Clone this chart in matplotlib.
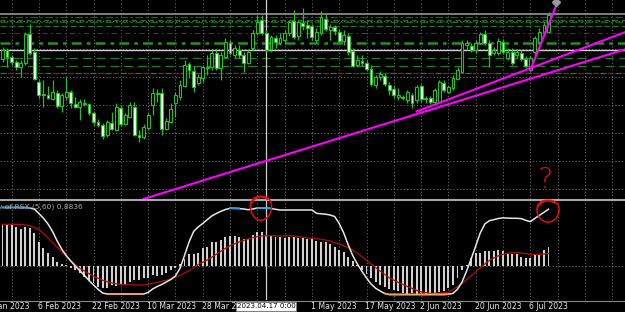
import numpy as np
import matplotlib.pyplot as plt
from matplotlib.patches import Rectangle
import matplotlib.transforms as mtransforms

plt.rcParams['font.family'] = ['Liberation Sans Narrow', 'DejaVu Sans']

# ---- daily candles (bar index 0 = first visible bar) ----
opens = [141, 150, 143, 138, 133, 137, 166, 148, 118, 106,
         105, 101, 107, 94, 103, 108, 96, 93, 97, 96,
         87, 78, 75, 65, 77, 70, 92, 76, 83, 93,
         65, 63, 72, 95, 107, 107, 71, 78, 97, 103,
         114, 136, 129, 117, 122, 133, 133, 147, 132, 143,
         157, 145, 150, 145, 137, 152, 167, 180, 167, 151,
         162, 157, 160, 167, 179, 164, 177, 175, 174, 160,
         167, 181, 170, 173, 168, 159, 164, 149, 135, 139,
         137, 131, 115, 123, 124, 115, 111, 103, 103, 100,
         105, 100, 114, 102, 102, 98, 98, 117, 108, 112,
         121, 128, 155, 154, 150, 157, 166, 157, 147, 147,
         158, 142, 148, 145, 147, 141, 130, 148, 158, 168,
         168]
closes = [150, 143, 138, 133, 137, 166, 147, 121, 105, 105,
          102, 108, 94, 105, 108, 97, 93, 98, 96.5, 87,
          78, 75, 64, 78, 71, 93, 76, 85, 95, 65,
          63, 73, 85, 107, 106.5, 71, 79, 91, 105, 115,
          135, 130, 113, 123, 133, 132, 147, 132, 145, 158,
          147, 152, 145, 137, 148, 167, 178, 167, 150, 163,
          158, 162, 167, 178, 163, 178, 174, 172, 163, 168,
          183, 171, 173, 169, 159, 165, 148, 134, 140, 137,
          131, 116, 123, 126, 116, 110, 105, 105, 102, 108,
          97, 113, 101, 101, 98, 110, 118, 110, 113, 122,
          130, 157, 157, 150, 157, 166, 157, 145, 150, 159,
          148, 148, 137, 148, 141, 134, 142, 162, 168, 175,
          185]
highs = [153, 152, 145, 140, 140, 168, 176, 152, 120, 120,
         114, 120, 110, 107, 123, 110, 103, 101, 101, 97,
         89, 81, 77, 80, 88, 97, 95, 87, 98, 98,
         70, 76, 87, 112, 111, 112, 82, 97, 108, 120,
         140, 138, 134, 126, 135, 145, 150, 150, 148, 162,
         160, 155, 155, 148, 150, 170, 185, 185, 170, 165,
         165, 167, 170, 180, 190, 180, 192, 180, 176, 172,
         189, 186, 176, 175, 171, 170, 167, 152, 145, 145,
         140, 135, 125, 129, 127, 118, 114, 112, 105, 110,
         107, 115, 116, 104, 104, 112, 120, 120, 115, 125,
         133, 160, 160, 157, 160, 168, 170, 160, 153, 162,
         161, 152, 152, 151, 150, 144, 144, 164, 172, 178,
         188]
lows = [138, 133, 135, 130, 123, 135, 145, 120, 102, 93,
        101, 100, 92, 88, 100, 92, 92, 80, 94, 85,
        75, 73, 61, 63, 70, 69, 74, 75, 82, 64,
        58, 61, 70, 85, 98, 65, 70, 77, 83, 100,
        113, 122, 108, 115, 118, 125, 130, 130, 120, 142,
        145, 142, 142, 128, 136, 150, 165, 165, 148, 148,
        152, 155, 156, 164, 161, 160, 170, 162, 160, 158,
        165, 169, 160, 165, 157, 155, 145, 133, 133, 134,
        129, 114, 112, 120, 114, 105, 102, 100, 100, 97,
        92, 97, 98, 97, 96, 96, 97, 108, 107, 110,
        120, 127, 150, 148, 147, 156, 155, 133, 145, 145,
        146, 140, 135, 142, 139, 132, 128, 145, 157, 167,
        167]

# ---- RSX indicator window ----
rsx_line = [58.5, 58.5, 58.5, 58.5, 58.5, 58.5, 58, 57, 52.5, 47.8,
            42, 34.5, 25.2, 17, 10.5, 5, 0, -4.8, -9.3, -14.5,
            -19, -23.3, -27, -28, -28, -28, -28, -28, -28, -28,
            -28, -28, -26.5, -23, -20.5, -18.5, -16, -13.5, -10, -2.5,
            10.5, 24, 34.5, 39, 42.5, 46.3, 50, 52.5, 54.7, 56.5,
            57.7, 57.7, 57.5, 57, 56.3, 57, 58, 58, 58, 57.5,
            56.7, 56, 56, 56, 56, 56, 56, 56, 56, 52.7,
            52.2, 51.8, 51, 49.5, 42.5, 33, 21, 10.2, 2, -5.3,
            -12, -18, -22.2, -25, -27.5, -28.5, -28.5, -28.5, -28.5, -28.5,
            -28.5, -28.5, -28.5, -28.5, -28.5, -28.5, -28.5, -28.5, -28.2, -27.4,
            -23.2, -16, -5, 7, 20, 33, 42, 45.3, 46.4, 47.5,
            48.2, 47.9, 47.7, 47.7, 47.4, 45.7, 44.3, 47.6, 50.6, 53.7,
            56.8]
signal_line = [41.7, 41.7, 41.7, 41.7, 41.6, 41, 40.3, 38.4, 36.5, 32.5,
               28, 23.4, 18.9, 14.3, 9.8, 5.3, 1.6, -2.2, -5, -7.7,
               -10, -12.3, -14.2, -15.7, -16.9, -17.7, -18.3, -18.6, -18.8, -19,
               -19, -19, -18.5, -17.4, -16.4, -15.4, -14.2, -13, -11.3, -9.6,
               -7, -4.8, -2, 1.5, 3.8, 6, 8.8, 11.7, 14.8, 17.6,
               20.3, 22.1, 24, 25.6, 27.1, 28.4, 29.4, 30, 30.2, 30.3,
               30.2, 30, 30.1, 30.3, 30, 29.5, 28.8, 28.1, 27.6, 27.2,
               26.8, 25.9, 25, 23.5, 22, 20.2, 18.4, 15.8, 12.7, 9.3,
               5.6, 2.1, -1.6, -5.1, -8.4, -11.8, -14.2, -16.5, -18.5, -20.5,
               -22.3, -24.3, -25.9, -26.6, -27.3, -27.3, -27.3, -26.7, -26, -23.7,
               -20.7, -17.6, -13.5, -9.7, -5.9, -2, 2, 5.5, 8, 10.3,
               11.7, 12.8, 13.3, 13.3, 13.1, 12.4, 11.7, 11.7, 11.7, 12,
               12.7]
histogram = [41.7, 41, 41, 39.3, 36.7, 39.3, 37.7, 32.7, 24.3, 17.7,
             12.7, 9.3, 4.3, 1.7, 1, -2.3, -4, -7.3, -10.7, -14,
             -17.3, -20.7, -21.7, -21.7, -19, -19.7, -19, -18.3, -16.3, -14,
             -14, -11.7, -11.7, -9, -9.7, -9, -7.3, -4, -2.3, 1.7,
             7, 12, 12, 12.7, 17.7, 19.3, 23.7, 23.7, 26, 29.3,
             30.3, 30.3, 29.3, 27, 27, 31, 33.7, 33.7, 31, 30.3,
             29.3, 29.3, 28.3, 29.3, 29.3, 27.7, 28.3, 27, 27, 25,
             24.3, 23.7, 21.7, 19.3, 16, 14.3, 9.3, 5, 1, -4,
             -8.3, -12.3, -15.7, -19, -21, -23, -24, -25, -27, -28,
             -27.3, -29, -27.3, -29, -27.3, -27.3, -25.7, -24.7, -22.3, -19,
             -12.3, -4, 1, 7.7, 12.7, 12.7, 15.3, 15.3, 15.3, 16,
             15.3, 12, 12, 12, 9.3, 7.7, 7.7, 11, 11, 16,
             19.3]
rsx_high_zone = 57.5
rsx_low_zone = -27.5
rsx_label = "Velocity of RSX (5,60) 0.8836"

# ---- time axis (the 13 Apr label sits under the cursor box) ----
date_idx = [-4, 8, 20, 32, 44, 68, 80, 92, 104, 116]
date_labels = ['19 Jan 2023', '6 Feb 2023', '22 Feb 2023', '10 Mar 2023', '28 Mar 2023',
               '1 May 2023', '17 May 2023', '2 Jun 2023', '20 Jun 2023', '6 Jul 2023']
cursor_idx = 58
cursor_price = 150
cursor_label = '2023.04.17 0:00'

# ---- horizontal levels drawn on the chart ----
levels = [185.7, 183, 180.5, 178, 174.5, 166.7, 157.3, 142, 134, 126.7]
level_colors = ['#a0a0a8', '#1a601a', '#226e22', '#1a601a', '#226e22',
                '#9a1414', '#2a8c2a', '#1f7f1f', '#1f7f1f', '#1f7f1f']
level_styles = ['-', (0, (6, 2, 2, 2)), (0, (4, 3)), (0, (6, 2, 2, 2)), (0, (5, 2)),
                (0, (5, 3, 1.5, 3)), (0, (4, 2, 1.5, 2)), (0, (7, 4)), (0, (7, 4)), (0, (5, 7))]
level_widths = [1.1, 0.9, 0.9, 0.9, 0.9, 0.8, 1.8, 0.9, 0.9, 0.9]

# ---- trend lines: two anchor points each (bar index, price) ----
trend_long = [(92, 87.3), (120, 126.9)]
trend_mid = [(91, 88.5), (120, 138.7)]
trend_steep = [(116, 130), (122, 198)]

# bar index -> pixel: x = 2.5 + 4.55 * i
W, H = 625, 312
x0_px, bar_px = 2.5, 4.55
xlim = ((0 - x0_px) / bar_px, (W - x0_px) / bar_px)

fig = plt.figure(figsize=(6.25, 3.12), dpi=100, facecolor='black')
ax = fig.add_axes([0, 1 - 199 / H, 1, 199 / H])
ax2 = fig.add_axes([0, (H - 300) / H, 1, 99 / H])

grid_kw = dict(color='#6a6a6a', linestyle=(0, (1.2, 2.2)), linewidth=0.7)
grid_x = np.arange(2, 137, 6)

idx = np.arange(len(opens))
o = np.array(opens, float)
c = np.array(closes, float)
hi = np.array(highs, float)
lo = np.array(lows, float)

# main window
ax.set_facecolor('black')
ax.set_xlim(*xlim)
ax.set_ylim(1, 200)
for gx in grid_x:
    ax.axvline(gx, zorder=0, **grid_kw)
for gy in np.arange(10.7, 200, 28):
    ax.axhline(gy, zorder=0, **grid_kw)
for lv, col, ls, lw in zip(levels, level_colors, level_styles, level_widths):
    ax.axhline(lv, color=col, linestyle=ls, linewidth=lw, zorder=1)
# red part of the mixed dash level
ax.axhline(levels[-1], color='#9a1414', linestyle=(6, (5, 7)), linewidth=0.9, zorder=1)
ax.axhline(cursor_price, color='#d0d0d0', linewidth=1.0, zorder=1)

green = '#22c022'
bull = c >= o
ax.vlines(idx, lo, hi, color=green, linewidth=0.9, zorder=3)
body_lo = np.minimum(o, c)
body_h = np.maximum(np.abs(c - o), 0.6)
ax.bar(idx, body_h, bottom=body_lo, width=0.62,
       color=np.where(bull, 'black', '#f4fff4'), edgecolor=green, linewidth=0.8, zorder=4)

magenta = '#ff00ff'
ax.axline(trend_long[0], trend_long[1], color=magenta, linewidth=1.5, zorder=5)
(ax_, ay_), (bx_, by_) = trend_mid
slope = (by_ - ay_) / (bx_ - ax_)
ax.plot([ax_, xlim[1]], [ay_, ay_ + slope * (xlim[1] - ax_)], color=magenta, linewidth=1.5, zorder=5)
ax.plot(*zip(*trend_steep), color=magenta, linewidth=1.5, zorder=5)
ax.plot(trend_steep[1][0] - 0.3, trend_steep[1][1], marker='D', ms=4, color='#9a9a9a', zorder=6, clip_on=False)
ax.axvline(cursor_idx, color='#cfcfcf', linewidth=0.9, zorder=2)
ax.set_xticks([])
ax.set_yticks([])
for s in ax.spines.values():
    s.set_visible(False)

# indicator window
ax2.set_facecolor('black')
ax2.set_xlim(*xlim)
ax2.set_ylim(-34, 65)
for gx in grid_x:
    ax2.axvline(gx, zorder=0, **grid_kw)
ax2.axhline(0, zorder=0, **grid_kw)
ax2.bar(idx, histogram, width=0.42, color='#d0d0d0', zorder=2)
ax2.plot(idx, signal_line, color='#b01010', linewidth=0.9, zorder=3)
rsx = np.array(rsx_line)
ax2.plot(idx, rsx, color='#e6e6e6', linewidth=1.1, zorder=4)
ax2.plot(idx, np.where(rsx >= rsx_high_zone, rsx, np.nan), color='#2aa0e6', linewidth=1.2, zorder=5)
ax2.plot(idx, np.where(rsx <= rsx_low_zone, rsx, np.nan), color='#f0a060', linewidth=1.2, zorder=5)
ax2.axvline(cursor_idx, color='#cfcfcf', linewidth=0.9, zorder=1)
ax2.set_xticks([])
ax2.set_yticks([])
for s in ax2.spines.values():
    s.set_visible(False)

# date labels under the indicator window
trans = mtransforms.blended_transform_factory(ax2.transData, fig.transFigure)
for di, lab in zip(date_idx, date_labels):
    ax2.text(di - 0.25, (H - 306.5) / H, lab, transform=trans, color='#e8e8e8',
             fontsize=5.6, ha='left', va='center', clip_on=False)

# overlay in pixel coordinates for frame lines and hand-drawn marks
ov = fig.add_axes([0, 0, 1, 1])
ov.set_xlim(0, W)
ov.set_ylim(H, 0)
ov.axis('off')
ov.patch.set_alpha(0)
ov.axhline(200, color='#a8a8a8', linewidth=1.5)
ov.axhline(300.5, color='#8a8a8a', linewidth=0.8)
ov.text(83, 207, rsx_label, color='#a8a8a8', fontsize=5.4, ha='right', va='center', zorder=1)
cx = x0_px + bar_px * cursor_idx
ov.add_patch(Rectangle((cx - 30, 301.5), 60, 9.5, facecolor='white', edgecolor='#808080', linewidth=0.5, zorder=8))
ov.text(cx, 306.5, cursor_label, color='black', fontsize=5.1, ha='center', va='center', zorder=9)

t = np.linspace(-0.35 * np.pi, 2.2 * np.pi, 120)
for (ex, ey, rx, ry) in [(261, 208, 11, 11.5), (548, 211, 11.5, 10.5)]:
    wob = 1 + 0.06 * np.sin(2.5 * t)
    ov.plot(ex + rx * wob * np.sin(t), ey - ry * wob * np.cos(t), color='#e01010', linewidth=1.1, zorder=10)
ov.text(545, 180, '?', color='#e01010', fontsize=21, ha='center', va='center',
        family='DejaVu Sans', fontweight='light', zorder=10)

fig.savefig('out.png', dpi=100, facecolor='black')
